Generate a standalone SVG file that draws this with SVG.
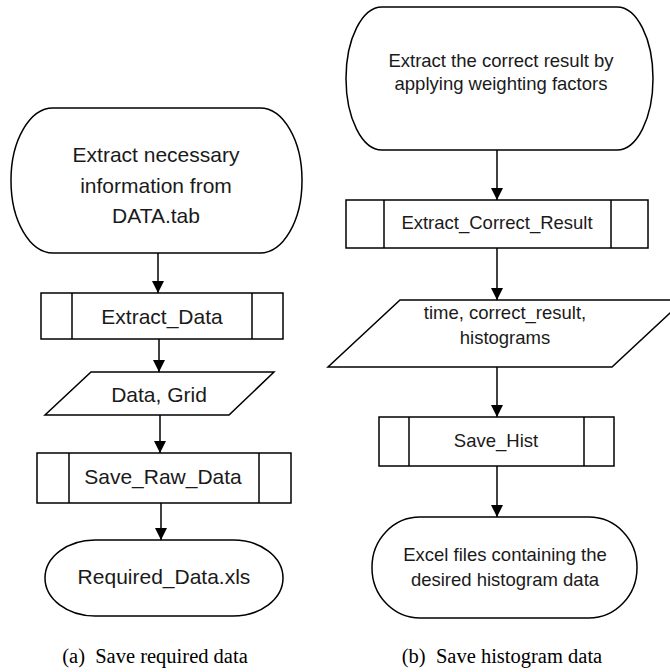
<svg xmlns="http://www.w3.org/2000/svg" width="670" height="672" viewBox="0 0 670 672">
  <style>
    .shape { fill: #ffffff; stroke: #000000; stroke-width: 1.5; }
    .inner { fill: none; stroke: #000000; stroke-width: 1.5; }
    .label { font-family: "Liberation Sans", Arial, sans-serif; fill: #1a1a1a; text-anchor: middle; }
    .big { font-size: 21px; }
    .small { font-size: 18.5px; }
    .caption { font-family: "Liberation Serif", "Times New Roman", serif; font-size: 20.5px; fill: #000000; text-anchor: middle; }
    .conn { stroke: #000000; stroke-width: 1.5; fill: none; marker-end: url(#arrow); }
  </style>
  <defs>
    <marker id="arrow" viewBox="0 0 10 10" refX="10" refY="5" markerWidth="8" markerHeight="8" orient="auto" markerUnits="strokeWidth">
      <path d="M0,0 L10,5 L0,10 z" fill="#000000"/>
    </marker>
  </defs>
  <rect width="670" height="672" fill="#ffffff"/>

  <!-- (a) Save required data -->
  <g id="a-start">
    <rect class="shape" x="11" y="108" width="291" height="145" rx="42" ry="72"/>
    <text class="label big" x="156" y="162">Extract necessary</text>
    <text class="label big" x="156" y="193">information from</text>
    <text class="label big" x="156" y="223">DATA.tab</text>
  </g>
  <g id="a-extract-data">
    <rect class="shape" x="41" y="293" width="242" height="46"/>
    <line class="inner" x1="72" y1="293" x2="72" y2="339"/>
    <line class="inner" x1="252" y1="293" x2="252" y2="339"/>
    <text class="label big" x="162" y="324">Extract_Data</text>
  </g>
  <g id="a-data-grid">
    <polygon class="shape" points="91,372 274,372 229,415 45,415"/>
    <text class="label big" x="159" y="402">Data, Grid</text>
  </g>
  <g id="a-save-raw">
    <rect class="shape" x="37" y="453" width="254" height="50"/>
    <line class="inner" x1="69" y1="453" x2="69" y2="503"/>
    <line class="inner" x1="259" y1="453" x2="259" y2="503"/>
    <text class="label big" x="163" y="484">Save_Raw_Data</text>
  </g>
  <g id="a-end">
    <rect class="shape" x="45" y="540" width="238" height="76" rx="50" ry="38"/>
    <text class="label big" x="164" y="584">Required_Data.xls</text>
  </g>
  <text class="caption" x="155" y="663" xml:space="preserve">(a)  Save required data</text>

  <!-- (b) Save histogram data -->
  <g id="b-start">
    <rect class="shape" x="346" y="7" width="307" height="143" rx="36" ry="72"/>
    <text class="label small" x="501" y="67">Extract the correct result by</text>
    <text class="label small" x="501" y="90">applying weighting factors</text>
  </g>
  <g id="b-extract-correct">
    <rect class="shape" x="346" y="200" width="302" height="48"/>
    <line class="inner" x1="384" y1="200" x2="384" y2="248"/>
    <line class="inner" x1="611" y1="200" x2="611" y2="248"/>
    <text class="label small" x="497" y="229">Extract_Correct_Result</text>
  </g>
  <g id="b-outputs">
    <polygon class="shape" points="400,300 684,300 612,367 328,367"/>
    <text class="label small" x="505" y="319">time, correct_result,</text>
    <text class="label small" x="505" y="344">histograms</text>
  </g>
  <g id="b-save-hist">
    <rect class="shape" x="379" y="417" width="235" height="49"/>
    <line class="inner" x1="409" y1="417" x2="409" y2="466"/>
    <line class="inner" x1="584" y1="417" x2="584" y2="466"/>
    <text class="label small" x="496" y="447">Save_Hist</text>
  </g>
  <g id="b-end">
    <rect class="shape" x="372" y="517" width="265" height="101" rx="48" ry="50"/>
    <text class="label small" x="505" y="561">Excel files containing the</text>
    <text class="label small" x="505" y="586">desired histogram data</text>
  </g>
  <text class="caption" x="502" y="663" xml:space="preserve">(b)  Save histogram data</text>

  <g id="connectors">
    <line class="conn" x1="158" y1="253" x2="158" y2="293"/>
    <line class="conn" x1="159" y1="339" x2="159" y2="372"/>
    <line class="conn" x1="160" y1="415" x2="160" y2="453"/>
    <line class="conn" x1="161" y1="503" x2="161" y2="540"/>
    <line class="conn" x1="497" y1="150" x2="497" y2="200"/>
    <line class="conn" x1="497" y1="248" x2="497" y2="300"/>
    <line class="conn" x1="497" y1="367" x2="497" y2="417"/>
    <line class="conn" x1="497" y1="466" x2="497" y2="517"/>
  </g>
</svg>
